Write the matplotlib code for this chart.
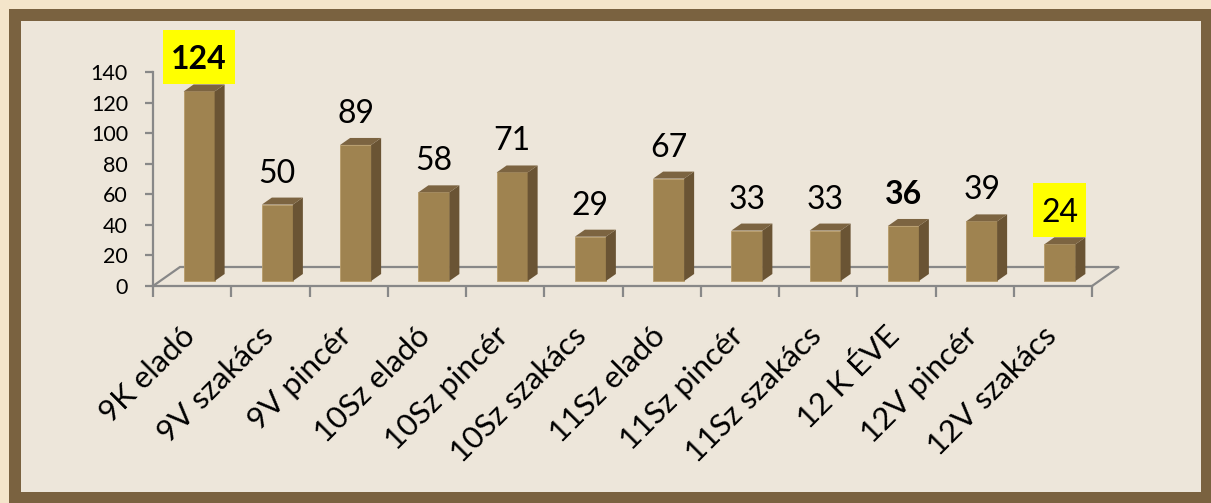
import matplotlib
matplotlib.use('Agg')
import matplotlib.pyplot as plt
from matplotlib.patches import Polygon, Rectangle

categories = ['9K eladó', '9V szakács', '9V pincér', '10Sz eladó', '10Sz pincér',
              '10Sz szakács', '11Sz eladó', '11Sz pincér', '11Sz szakács',
              '12 K ÉVE', '12V pincér', '12V szakács']
values = [124, 50, 89, 58, 71, 29, 67, 33, 33, 36, 39, 24]
bold_labels = ['9K eladó', '12 K ÉVE']
boxed_labels = ['9K eladó', '12V szakács']
y_ticks = [0, 20, 40, 60, 80, 100, 120, 140]

W, H = 1211, 503
FONT = 'Lato'
fig = plt.figure(figsize=(W / 100, H / 100), dpi=100)
fig.patch.set_facecolor('#F4E5CA')

# frame
fig.add_artist(Rectangle((9 / W, -0.05), 1.1, 1 - 9 / H + 0.05, transform=fig.transFigure,
                         facecolor='#7A6240', edgecolor='none', zorder=0))
fig.add_artist(Rectangle((21 / W, 1 - 492 / H), (1201 - 21) / W, (492 - 21) / H,
                         transform=fig.transFigure, facecolor='#EDE6DA', edgecolor='none', zorder=0))

ax = fig.add_axes([153 / W, (H - 286) / H, 939 / W, 214 / H])
ax.set_xlim(-0.5, len(categories) - 0.5)
ax.set_ylim(0, 140)
ax.patch.set_visible(False)

n = len(categories)
pxx = 939 / n          # px per category unit
pxy = 214 / 140        # px per value unit
PT = 0.72              # points per pixel at 100 dpi
AX = '#888888'

# floor (depth offsets)
fdx, fdy = 27 / pxx, 19 / pxy
ax.plot([-0.5, -0.5 + fdx, n - 0.5 + fdx, n - 0.5], [0, fdy, fdy, 0], color=AX, lw=1.6,
        clip_on=False, zorder=1, solid_joinstyle='miter')

# bars
ox, oy = 7 / pxx, 5 / pxy
bdx, bdy = 10 / pxx, 7 / pxy
bw = 31 / pxx
FRONT, SIDE, TOP = '#9F8350', '#6A5434', '#7C6441'
boxed = []
for i, (cat, v) in enumerate(zip(categories, values)):
    xl = i + ox - bw / 2
    xr = i + ox + bw / 2
    y0, y1 = oy, oy + v
    ax.add_patch(Polygon([(xl, y0), (xr, y0), (xr, y1), (xl, y1)], closed=True,
                         facecolor=FRONT, edgecolor='#B79C69', lw=0.6, clip_on=False, zorder=3))
    ax.add_patch(Polygon([(xr, y0), (xr + bdx, y0 + bdy), (xr + bdx, y1 + bdy), (xr, y1)],
                         closed=True, facecolor=SIDE, edgecolor='none', clip_on=False, zorder=3))
    ax.add_patch(Polygon([(xl, y1), (xl + bdx, y1 + bdy), (xr + bdx, y1 + bdy), (xr, y1)],
                         closed=True, facecolor=TOP, edgecolor='none', clip_on=False, zorder=3))
    t = ax.annotate(str(v), xy=(i + ox, y1), xytext=(0, 22 * PT), textcoords='offset points',
                    ha='center', va='baseline', fontsize=23, family=FONT,
                    fontweight='bold' if cat in bold_labels else 'normal',
                    color='black', zorder=6, annotation_clip=False)
    if cat in boxed_labels:
        boxed.append((t, i + ox, y1))
    ax.annotate(cat, xy=(i, 0), xytext=(5 * PT, -52 * PT), textcoords='offset points',
                rotation=45, rotation_mode='anchor', ha='right', va='baseline',
                fontsize=22.5, family=FONT, color='black', annotation_clip=False)

# axes styling
for s in ['top', 'right']:
    ax.spines[s].set_visible(False)
ax.spines['left'].set_color(AX)
ax.spines['left'].set_linewidth(1.6)
ax.spines['bottom'].set_color(AX)
ax.spines['bottom'].set_linewidth(1.6)
ax.set_yticks(y_ticks)
ax.set_yticklabels([str(t) for t in y_ticks], fontsize=15.5, family=FONT)
ax.tick_params(axis='y', length=6, width=1.6, color=AX, pad=12)
ax.set_xticks([k - 0.5 for k in range(n + 1)])
ax.set_xticklabels([])
ax.tick_params(axis='x', length=8, width=1.6, color=AX)

# yellow highlight boxes behind selected value labels
fig.canvas.draw()
r = fig.canvas.get_renderer()
inv = fig.transFigure.inverted()
for t, x, y1 in boxed:
    ext = t.get_window_extent(r)
    bx, by = ax.transData.transform((x, y1))
    base = by + 22
    x0, x1 = ext.x0 - 8, ext.x1 + 8
    yb, yt = base - 15, base + 39
    (fx0, fy0), (fx1, fy1) = inv.transform([(x0, yb), (x1, yt)])
    fig.add_artist(Rectangle((fx0, fy0), fx1 - fx0, fy1 - fy0, transform=fig.transFigure,
                             facecolor='#FFFF00', edgecolor='none', zorder=1))
    t.set_zorder(6)
ax.set_zorder(2)

fig.savefig('out.png', dpi=100, facecolor=fig.get_facecolor())
